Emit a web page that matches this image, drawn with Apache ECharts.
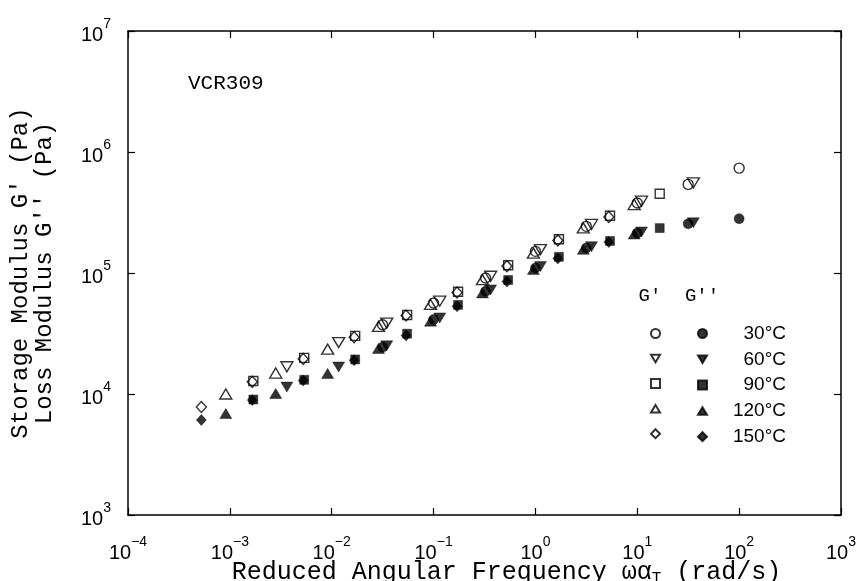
<!DOCTYPE html>
<html>
<head>
<meta charset="utf-8">
<script src="https://cdn.jsdelivr.net/npm/echarts@6/dist/echarts.min.js"></script>
<style>html,body{margin:0;padding:0;background:#fff;}#c{width:862px;height:581px;}</style>
</head>
<body>
<div id="c"></div>
<script>
// ---- data (reduced angular frequency in rad/s, moduli in Pa) ----
const temps = ['30°C', '60°C', '90°C', '120°C', '150°C'];
const xTicks = [1e-4, 1e-3, 1e-2, 1e-1, 1, 10, 100, 1000];
const yTicks = [1e3, 1e4, 1e5, 1e6, 1e7];

const w30   = [3.16e-2, 0.1, 0.324, 1.0, 3.16, 10, 31.6, 100];
const gp30  = [3.74e4, 5.65e4, 9.1e4, 1.51e5, 2.43e5, 3.79e5, 5.4e5, 7.36e5];
const gpp30 = [2.44e4, 4.12e4, 7.05e4, 1.10e5, 1.61e5, 2.14e5, 2.55e5, 2.81e5];

const w60   = [3.63e-3, 1.17e-2, 3.47e-2, 0.115, 0.363, 1.12, 3.55, 11.0, 35.5];
const gp60  = [1.68e4, 2.66e4, 3.85e4, 5.85e4, 9.4e4, 1.56e5, 2.52e5, 3.92e5, 5.55e5];
const gpp60 = [1.14e4, 1.67e4, 2.5e4, 4.25e4, 7.25e4, 1.13e5, 1.65e5, 2.18e5, 2.6e5];

const w90   = [1.70e-3, 5.37e-3, 1.70e-2, 5.5e-2, 0.174, 0.54, 1.70, 5.4, 16.6];
const gp90  = [1.28e4, 1.99e4, 3.02e4, 4.5e4, 7.0e4, 1.16e5, 1.9e5, 2.97e5, 4.52e5];
const gpp90 = [9.0e3, 1.31e4, 1.93e4, 3.15e4, 5.45e4, 8.75e4, 1.36e5, 1.84e5, 2.35e5];

const w120   = [9.12e-4, 2.82e-3, 9.12e-3, 2.88e-2, 9.33e-2, 0.302, 0.955, 2.95, 9.33];
const gp120  = [1.0e4, 1.49e4, 2.35e4, 3.62e4, 5.5e4, 8.8e4, 1.46e5, 2.36e5, 3.68e5];
const gpp120 = [6.9e3, 1.01e4, 1.48e4, 2.38e4, 4.0e4, 6.85e4, 1.07e5, 1.57e5, 2.1e5];

const w150   = [5.25e-4, 1.66e-3, 5.25e-3, 1.66e-2, 5.37e-2, 0.170, 0.525, 1.66, 5.25];
const gp150  = [7.8e3, 1.26e4, 1.95e4, 2.95e4, 4.45e4, 6.9e4, 1.14e5, 1.86e5, 2.9e5];
const gpp150 = [6.1e3, 8.9e3, 1.29e4, 1.9e4, 3.05e4, 5.3e4, 8.5e4, 1.32e5, 1.8e5];

// ---- build ----
const freqs = [w30, w60, w90, w120, w150];
const storage = [gp30, gp60, gp90, gp120, gp150];
const loss = [gpp30, gpp60, gpp90, gpp120, gpp150];
const symbols = ['circle', 'path://M0,0 L12,0 L6,10 Z', 'rect', 'path://M6,0 L12,10 L0,10 Z', 'diamond'];
const symSizes = [10, [12, 10], 9, [12, 10], [10, 11]];

function pairs(xs, ys) { return xs.map((x, i) => [x, ys[i]]); }

const series = [];
temps.forEach((t, i) => {
  series.push({
    name: "G' " + t, type: 'scatter', xAxisIndex: 0, yAxisIndex: 0,
    symbol: symbols[i], symbolSize: symSizes[i],
    itemStyle: { color: 'rgba(255,255,255,0)', borderColor: '#000', borderWidth: 1.4 },
    data: pairs(freqs[i], storage[i]), z: 3
  });
});
temps.forEach((t, i) => {
  series.push({
    name: "G'' " + t, type: 'scatter', xAxisIndex: 0, yAxisIndex: 0,
    symbol: symbols[i], symbolSize: symSizes[i],
    itemStyle: { color: '#000', borderColor: '#000', borderWidth: 0.5 },
    data: pairs(freqs[i], loss[i]), z: 4
  });
});

const supRich = {
  b: { fontSize: 20, fontFamily: 'Liberation Sans', color: '#000', lineHeight: 28, verticalAlign: 'bottom' },
  s: { fontSize: 14, fontFamily: 'Liberation Sans', color: '#000', lineHeight: 28, verticalAlign: 'top' }
};
function powLabel(v) {
  const e = Math.round(Math.log10(v));
  return '{b|10}{s|' + String(e).replace('-', '\u2212') + '}';
}

const axisLineStyle = { color: '#000', width: 1.5 };
const tickStyle = { show: true, inside: true, length: 7, lineStyle: { color: '#000', width: 1.2 } };

const option = {
  backgroundColor: '#fff',
  animation: false,
  grid: { left: 128, right: 21, top: 31, bottom: 66, containLabel: false, outerBoundsMode: 'none' },
  xAxis: [{
    type: 'log', logBase: 10, min: xTicks[0], max: xTicks[xTicks.length - 1],
    position: 'bottom',
    axisLine: { show: true, lineStyle: axisLineStyle },
    axisTick: tickStyle,
    minorTick: { show: false },
    splitLine: { show: false },
    axisLabel: { show: true, margin: 20, formatter: powLabel, rich: supRich },
    name: '{m|Reduced Angular Frequency \u03c9\u03b1}{sub|T}{m| (rad/s)}',
    nameLocation: 'middle', nameGap: 42, nameMoveOverlap: false,
    nameTextStyle: {
      padding: [0, 0, 0, 44],
      rich: {
        m: { fontSize: 25, fontFamily: 'Liberation Mono', color: '#000', lineHeight: 30, verticalAlign: 'middle' },
        sub: { fontSize: 16, fontFamily: 'Liberation Mono', color: '#000', lineHeight: 30, verticalAlign: 'bottom' }
      }
    }
  }, {
    type: 'log', logBase: 10, min: xTicks[0], max: xTicks[xTicks.length - 1],
    position: 'top',
    axisLine: { show: true, lineStyle: axisLineStyle },
    axisTick: tickStyle,
    axisLabel: { show: false }, splitLine: { show: false }
  }],
  yAxis: [{
    type: 'log', logBase: 10, min: yTicks[0], max: yTicks[yTicks.length - 1],
    position: 'left',
    axisLine: { show: true, lineStyle: axisLineStyle },
    axisTick: tickStyle,
    splitLine: { show: false },
    axisLabel: { show: true, margin: 17, formatter: powLabel, rich: supRich },
    name: "Storage Modulus G' (Pa)\nLoss Modulus G'' (Pa)",
    nameLocation: 'middle', nameGap: 71, nameMoveOverlap: false,
    nameTextStyle: { fontSize: 24, fontFamily: 'Liberation Mono', color: '#000', lineHeight: 24 }
  }, {
    type: 'log', logBase: 10, min: yTicks[0], max: yTicks[yTicks.length - 1],
    position: 'right',
    axisLine: { show: true, lineStyle: axisLineStyle },
    axisTick: tickStyle,
    axisLabel: { show: false }, splitLine: { show: false }
  }],
  legend: [{
    orient: 'vertical', left: 650, top: 328, padding: 0, itemWidth: 9, itemHeight: 9, itemGap: 14.8,
    data: temps.map(t => "G' " + t),
    formatter: () => '',
    textStyle: { fontSize: 10, lineHeight: 10 },
    selectedMode: false
  }, {
    orient: 'vertical', left: 697, top: 324, padding: 0, itemWidth: 9, itemHeight: 9, itemGap: 6.8,
    data: temps.map(t => "G'' " + t),
    formatter: (name) => '{t|' + name.replace("G'' ", '') + '}',
    textStyle: {
      lineHeight: 10,
      rich: { t: { width: 74, align: 'right', fontSize: 19, fontFamily: 'Liberation Sans', color: '#000', lineHeight: 10 } }
    },
    selectedMode: false
  }],
  graphic: [
    { type: 'text', left: 188, top: 73, style: { text: 'VCR309', font: '21px "Liberation Mono"', fill: '#000' } },
    { type: 'text', x: 650, y: 296, style: { text: "G'", font: '19px "Liberation Mono"', fill: '#000', textAlign: 'center', textVerticalAlign: 'middle' } },
    { type: 'text', x: 702, y: 296, style: { text: "G''", font: '19px "Liberation Mono"', fill: '#000', textAlign: 'center', textVerticalAlign: 'middle' } }
  ],
  series: series
};

const chart = echarts.init(document.getElementById('c'), null, { renderer: 'canvas' });
chart.setOption(option);
</script>
</body>
</html>
